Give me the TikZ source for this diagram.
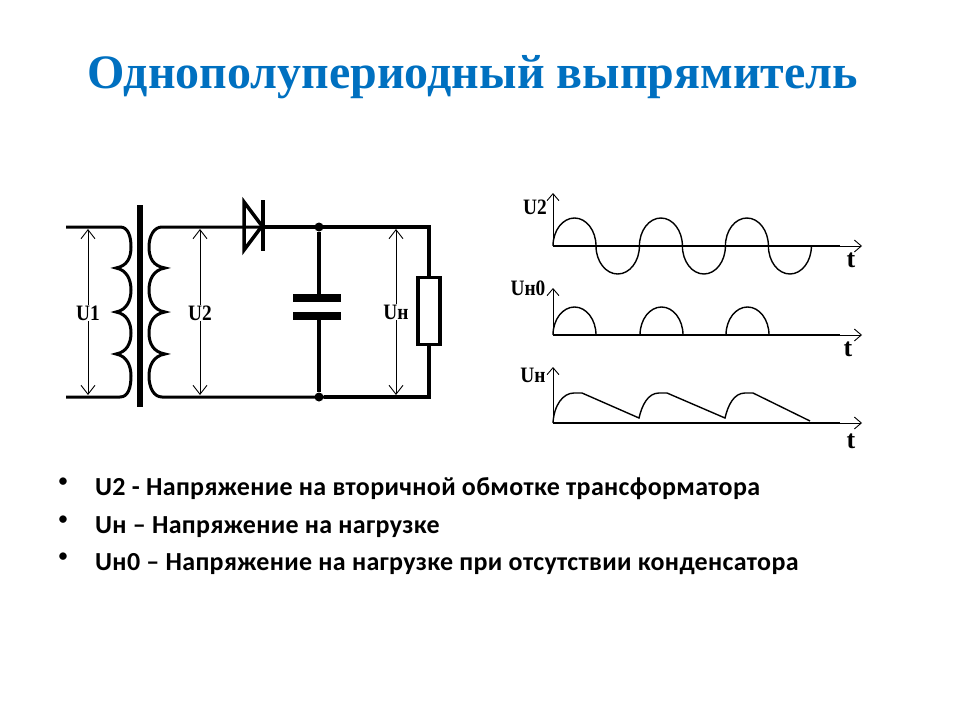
\documentclass[tikz,border=0pt]{standalone}
\usepackage{fontspec}
\setmainfont{Liberation Serif}
\newfontfamily\bodyfont[LetterSpace=1.3]{Carlito}
\newfontfamily\dotfont{Carlito}
\usetikzlibrary{arrows.meta}
\definecolor{titleblue}{RGB}{0,112,192}
\tikzset{
    wire/.style={black, line width=3.5pt},
    curve/.style={black, line width=1.4pt},
    axis/.style={black, line width=2pt},
    plate/.style={black, line width=8pt},
    span/.style={black, line width=0.9pt, {Straight Barb[length=9pt,width=14pt]}-{Straight Barb[length=9pt,width=14pt]}},
    axisarrow/.style={black, line width=0.9pt, -{Straight Barb[length=7pt,width=12pt]}},
    lbl/.style={inner sep=1pt, xscale=0.88, font=\bfseries\fontsize{22}{24}\selectfont},
    tlbl/.style={inner sep=0pt, font=\bfseries\fontsize{26}{28}\selectfont},
    note/.style={anchor=base west, inner sep=0pt, font=\bodyfont\bfseries\fontsize{26}{30}\selectfont},
    dotmark/.style={anchor=center, inner sep=0pt, font=\dotfont\fontsize{21}{25}\selectfont}
}
\begin{document}
\begin{tikzpicture}[x=1pt,y=-1pt]
    \useasboundingbox (0,0) rectangle (960,720);

    % title
    \node[text=titleblue, anchor=base, font=\bfseries\fontsize{48}{56}\selectfont] (title) at (472.5,88) {Однополупериодный выпрямитель};

    % transformer
    \draw[black, line width=6pt] (140,205) -- (140,407);
    \draw[wire, line width=3pt] (66,227) -- (120,227)
        .. controls (128,227) and (131,236) .. (131,247) .. controls (131,258) and (127,266) .. (116,268)
        .. controls (127,270) and (131,280) .. (131,290) .. controls (131,300) and (127,310) .. (116,312)
        .. controls (127,314) and (131,323) .. (131,333) .. controls (131,343) and (127,352) .. (116,354)
        .. controls (127,356) and (131,366) .. (131,376) .. controls (131,388) and (128,397) .. (120,397) -- (66,397);
    \draw[wire, line width=3pt] (262,227) -- (162,227)
        .. controls (154,227) and (149,236) .. (149,247) .. controls (149,258) and (153,266) .. (165,268)
        .. controls (153,270) and (149,280) .. (149,290) .. controls (149,300) and (153,310) .. (165,312)
        .. controls (153,314) and (149,323) .. (149,333) .. controls (149,343) and (153,352) .. (165,354)
        .. controls (153,356) and (149,366) .. (149,376) .. controls (149,388) and (154,397) .. (162,397) -- (429,397);

    % diode
    \draw[wire, line join=miter] (244,202) -- (244,250) -- (262,226) -- cycle;
    \draw[wire] (263,200) -- (263,251);

    % load side
    \coordinate (topright) at (429,227);
    \coordinate (botright) at (429,397);
    \node[circle, fill=black, inner sep=0pt, minimum size=9pt] (jtop) at (319,227) {};
    \node[circle, fill=black, inner sep=0pt, minimum size=9pt] (jbot) at (319,397) {};
    \node[draw=black, line width=3.5pt, fill=white, inner sep=0pt, minimum width=22pt, minimum height=67pt] (load) at (429,311) {};
    \draw[wire] (262,227) -- (topright) -- (load.north);
    \draw[wire] (load.south) -- (botright) -- (jbot);
    \draw[wire] (jtop) -- (319,298);
    \draw[wire] (319,316) -- (jbot);
    \draw[plate] (293,298) -- (341,298);
    \draw[plate] (293,316) -- (341,316);

    % voltage arrows
    \draw[span] (88,229) -- (88,395);
    \draw[span] (200,229) -- (200,395);
    \draw[span] (396,229) -- (396,395);
    \node[lbl, fill=white] (uone) at (88,313) {U1};
    \node[lbl, fill=white] (utwo) at (200,313) {U2};
    \node[lbl, fill=white] (uload) at (396,312) {Uн};

    % graph U2
    \draw[axisarrow] (553,246) -- (553,193);
    \draw[axisarrow] (553,246) -- (862,246);
    \draw[axis] (553,246) -- (840,246);
    \draw[curve] (553,246) arc[start angle=180, end angle=360, x radius=21.5, y radius=28]
        arc[start angle=180, end angle=0, x radius=21.7, y radius=28]
        arc[start angle=180, end angle=360, x radius=21.5, y radius=28]
        arc[start angle=180, end angle=0, x radius=21.5, y radius=28]
        arc[start angle=180, end angle=360, x radius=21.5, y radius=28]
        arc[start angle=180, end angle=0, x radius=21.5, y radius=28];
    \node[lbl] (gone) at (535,207) {U2};
    \node[tlbl] (tone) at (851,260) {t};

    % graph Uн0
    \draw[axisarrow] (553,335) -- (553,288);
    \draw[axisarrow] (553,335) -- (862,335);
    \draw[axis] (553,335) -- (840,335);
    \draw[curve] (553,335) arc[start angle=180, end angle=360, x radius=21.5, y radius=28];
    \draw[curve] (640,335) arc[start angle=180, end angle=360, x radius=21.5, y radius=28];
    \draw[curve] (726,335) arc[start angle=180, end angle=360, x radius=21.5, y radius=28];
    \node[lbl] (gtwo) at (528,288) {Uн0};
    \node[tlbl] (ttwo) at (848,349) {t};

    % graph Uн
    \draw[axisarrow] (553,423) -- (553,367);
    \draw[axisarrow] (553,423) -- (862,423);
    \draw[axis] (553,423) -- (840,423);
    \draw[curve] (553,423) .. controls (554,405) and (563,393) .. (574,393) -- (582,393) -- (639,418)
        .. controls (642,405) and (648,393) .. (659,393) -- (667,393) -- (725,418)
        .. controls (728,405) and (734,393) .. (745,393) -- (753,393) -- (810,421);
    \node[lbl] (gthree) at (533,375) {Uн};
    \node[tlbl] (tthree) at (851,441) {t};

    % notes
    \node[dotmark] (dotone) at (63,483) {•};
    \node[dotmark] (dottwo) at (63,521) {•};
    \node[dotmark] (dotthree) at (63,558) {•};
    \node[note] (noteone) at (95,495) {U2 - Напряжение на вторичной обмотке трансформатора};
    \node[note] (notetwo) at (95,533) {Uн – Напряжение на нагрузке};
    \node[note] (notethree) at (95,570) {Uн0 – Напряжение на нагрузке при отсутствии конденсатора};
\end{tikzpicture}
\end{document}
